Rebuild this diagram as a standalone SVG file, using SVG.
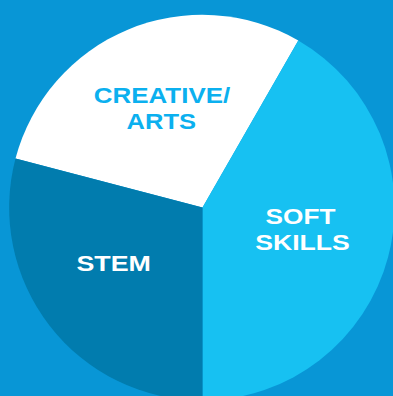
<svg xmlns="http://www.w3.org/2000/svg" width="393" height="396" viewBox="0 0 393 396">
  <style>
    .lbl { font-family: "Liberation Sans", Arial, Helvetica, sans-serif; font-weight: bold; font-size: 22px; text-anchor: middle; }
    .w { fill: #ffffff; }
    .b { fill: #0bb0ef; }
  </style>
  <rect x="0" y="0" width="393" height="396" fill="#0896d6"/>
  <g id="creative">
    <path d="M202.5,207.5 L15.5,158.5 A193,193 0 0 1 298.3,40.5 Z" fill="#ffffff"/>
    <text class="lbl b" transform="translate(162,102.5) scale(1.18,1)">CREATIVE/</text>
    <text class="lbl b" transform="translate(161.3,128.5) scale(1.16,1)">ARTS</text>
  </g>
  <g id="soft">
    <path d="M202.5,207.5 L298.3,40.5 A193,193 0 0 1 202.5,400.5 Z" fill="#17c1f2"/>
    <text class="lbl w" transform="translate(300.5,223.5) scale(1.19,1)">SOFT</text>
    <text class="lbl w" transform="translate(302.5,250) scale(1.21,1)">SKILLS</text>
  </g>
  <g id="stem">
    <path d="M202.5,207.5 L202.5,400.5 A193,193 0 0 1 15.5,158.5 Z" fill="#017cae"/>
    <text class="lbl w" transform="translate(113.7,271) scale(1.22,1)">STEM</text>
  </g>
  <g id="connectors"/>
</svg>
